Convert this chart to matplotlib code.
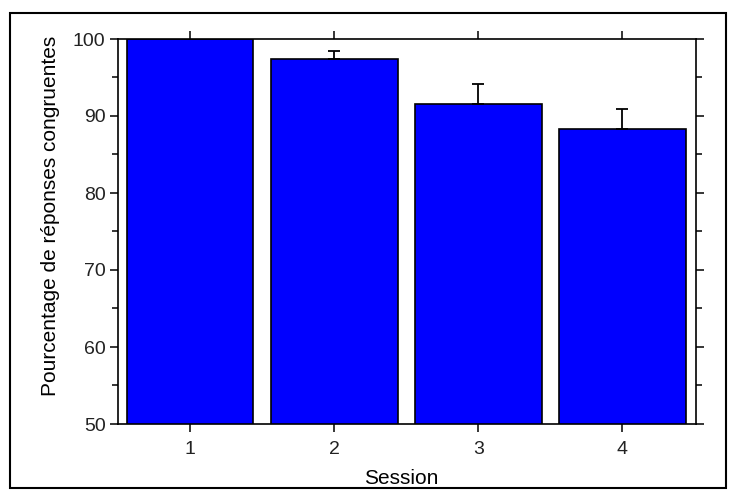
import matplotlib
matplotlib.use("Agg")
import matplotlib.pyplot as plt
from matplotlib.patches import Rectangle
from matplotlib.ticker import MultipleLocator

sessions = [1, 2, 3, 4]
pourcentage = [100.0, 97.4, 91.5, 88.3]
erreur = [0.0, 1.0, 2.6, 2.6]

plt.rcParams['font.family'] = ['Liberation Sans', 'DejaVu Sans']
plt.rcParams['text.color'] = '#222222'
plt.rcParams['xtick.labelcolor'] = '#222222'
plt.rcParams['ytick.labelcolor'] = '#222222'

fig = plt.figure(figsize=(7.36, 4.94), dpi=100)
ax = fig.add_axes([118 / 736, 1 - 424 / 494, (696 - 118) / 736, (424 - 39) / 494])

ax.bar(sessions, pourcentage, width=0.88, color='#0000ff', edgecolor='black', linewidth=1.2, zorder=2)
ax.errorbar(sessions, pourcentage, yerr=[[0] * 4, erreur], fmt='none', ecolor='black',
            elinewidth=1.3, capsize=4, capthick=1.3, zorder=3)

ax.set_xlim(0.5, 4.51)
ax.set_ylim(50, 100)
ax.set_xticks(sessions)
ax.yaxis.set_major_locator(MultipleLocator(10))
ax.yaxis.set_minor_locator(MultipleLocator(5))
ax.tick_params(axis='both', direction='out', length=6, width=1.1, labelsize=14,
               top=True, right=True, labeltop=False, labelright=False)
ax.tick_params(axis='x', pad=6)
ax.tick_params(axis='y', pad=3)
ax.tick_params(axis='y', which='minor', direction='out', length=4, width=1.1, right=True)
for s in ax.spines.values():
    s.set_linewidth(1.2)

ax.set_xlabel('Session', fontsize=15, labelpad=8)
ax.set_ylabel('Pourcentage de réponses congruentes', fontsize=15, labelpad=9)
ax.xaxis.label.set_x(0.49)
ax.yaxis.label.set_y(0.54)

fig.patches.append(Rectangle((10 / 736, 1 - 488 / 494), 716 / 736, 475 / 494,
                             transform=fig.transFigure, fill=False, edgecolor='black', linewidth=1.5))

fig.savefig('out.png', dpi=100)
